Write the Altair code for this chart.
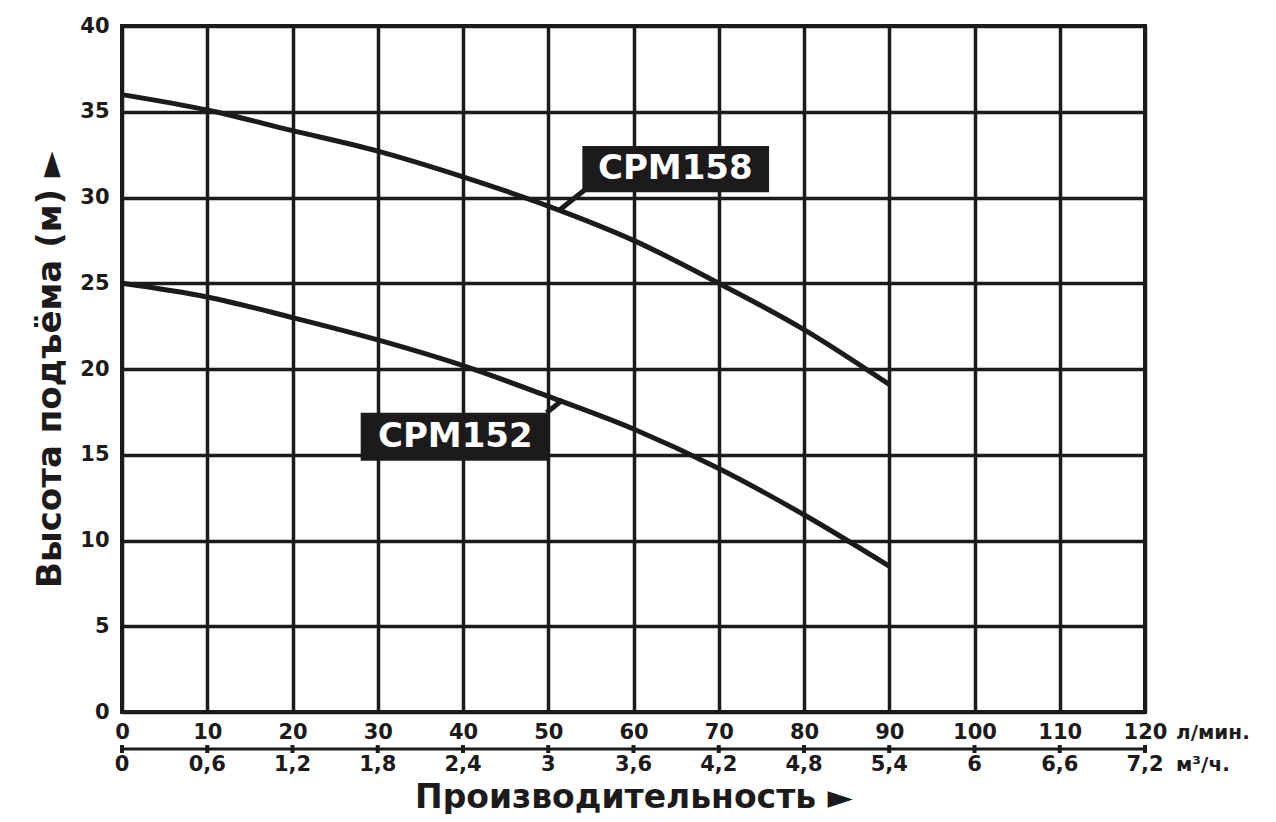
import altair as alt
import pandas as pd

# ---- data ----
flow_lpm = [0, 10, 20, 30, 40, 50, 60, 70, 80, 90]
head_cpm158 = [36.0, 35.1, 33.9, 32.7, 31.2, 29.5, 27.5, 25.0, 22.3, 19.1]
head_cpm152 = [25.0, 24.2, 23.0, 21.7, 20.2, 18.4, 16.5, 14.2, 11.5, 8.5]

x_ticks = [0, 10, 20, 30, 40, 50, 60, 70, 80, 90, 100, 110, 120]
m3h_labels = ["0", "0,6", "1,2", "1,8", "2,4", "3", "3,6", "4,2", "4,8", "5,4", "6", "6,6", "7,2"]
y_ticks = [0, 5, 10, 15, 20, 25, 30, 35, 40]

series_names = ["CPM158", "CPM152"]
# label boxes (data units)
box_x1 = [54.0, 28.0]
box_x2 = [75.9, 50.2]
box_y1 = [30.3, 14.65]
box_y2 = [33.0, 17.45]
text_x = [64.9, 39.1]
text_y = [31.65, 16.05]
lead_x1 = [54.3, 49.8]
lead_y1 = [30.45, 17.45]
lead_x2 = [51.4, 51.7]
lead_y2 = [29.3, 18.2]

unit_names = ["л/мин.", "м³/ч."]

W, H = 1023, 686
INK = "#1c1a1b"
FONT = "DejaVu Sans"

curves = pd.DataFrame(
    [{"x": x, "y": y, "s": "CPM158"} for x, y in zip(flow_lpm, head_cpm158)]
    + [{"x": x, "y": y, "s": "CPM152"} for x, y in zip(flow_lpm, head_cpm152)]
)
labels = pd.DataFrame({
    "name": series_names, "bx1": box_x1, "bx2": box_x2, "by1": box_y1, "by2": box_y2,
    "tx": text_x, "ty": text_y, "lx1": lead_x1, "ly1": lead_y1, "lx2": lead_x2, "ly2": lead_y2,
})
axis2 = pd.DataFrame({"x": x_ticks, "lab": m3h_labels})

xs = alt.Scale(domain=[0, 120], nice=False, zero=False)
ys = alt.Scale(domain=[0, 40], nice=False, zero=False)

base_x = alt.X("x:Q", scale=xs, axis=alt.Axis(
    values=x_ticks, grid=True, gridColor=INK, gridWidth=3.5, gridOpacity=1,
    domain=False, ticks=False, labelFont=FONT, labelFontSize=21, labelFontWeight="bold",
    labelColor=INK, labelPadding=9, labelFlush=False, labelOverlap=False,
    title="Производительность ►", titleFont=FONT, titleFontSize=33, titleFontWeight="bold",
    titleColor=INK, titlePadding=39))
base_y = alt.Y("y:Q", scale=ys, axis=alt.Axis(
    values=y_ticks, grid=True, gridColor=INK, gridWidth=3.5, gridOpacity=1,
    domain=False, ticks=False, labelFont=FONT, labelFontSize=21, labelFontWeight="bold",
    labelColor=INK, labelPadding=13, labelOverlap=False,
    title="Высота подъёма (м) ►", titleFont=FONT, titleFontSize=34, titleFontWeight="bold",
    titleColor=INK, titlePadding=12))

lines = alt.Chart(curves).mark_line(color=INK, strokeWidth=5, interpolate="monotone").encode(
    x=base_x, y=base_y, detail="s:N")

leaders = alt.Chart(labels).mark_rule(color=INK, strokeWidth=5).encode(
    x=alt.X("lx1:Q", scale=xs), y=alt.Y("ly1:Q", scale=ys),
    x2="lx2:Q", y2="ly2:Q")

boxes = alt.Chart(labels).mark_rect(color=INK).encode(
    x=alt.X("bx1:Q", scale=xs), x2="bx2:Q",
    y=alt.Y("by1:Q", scale=ys), y2="by2:Q")

box_text = alt.Chart(labels).mark_text(
    color="white", font=FONT, fontWeight="bold", fontSize=34, baseline="middle", align="center"
).encode(x=alt.X("tx:Q", scale=xs), y=alt.Y("ty:Q", scale=ys), text="name:N")

# second (m³/h) axis below the plot
ax2_line = alt.Chart(axis2).mark_rule(color=INK, strokeWidth=3).encode(
    x=alt.X("min(x):Q", scale=xs), x2="max(x):Q", y=alt.value(H + 37))
ax2_ticks = alt.Chart(axis2).mark_rule(color=INK, strokeWidth=4).encode(
    x=alt.X("x:Q", scale=xs), y=alt.value(H + 33), y2=alt.value(H + 41))
ax2_text = alt.Chart(axis2).mark_text(
    color=INK, font=FONT, fontWeight="bold", fontSize=21, baseline="middle", align="center"
).encode(x=alt.X("x:Q", scale=xs), y=alt.value(H + 53), text="lab:N")

units = pd.DataFrame({"u": unit_names, "yy": [H + 21, H + 53]})
unit_text = alt.Chart(units).mark_text(
    color=INK, font=FONT, fontWeight="bold", fontSize=20, baseline="middle", align="left"
).encode(x=alt.value(W + 31), y=alt.Y("yy:Q", scale=None), text="u:N")

chart = alt.layer(lines, leaders, boxes, box_text, ax2_line, ax2_ticks, ax2_text, unit_text).properties(
    width=W, height=H,
    autosize=alt.AutoSizeParams(type="none"),
    padding={"left": 114, "top": 18, "right": 120, "bottom": 102},
    background="white",
).configure_view(stroke=INK, strokeWidth=4)

chart.save("out.html", embed_options={"renderer": "svg", "actions": False})
